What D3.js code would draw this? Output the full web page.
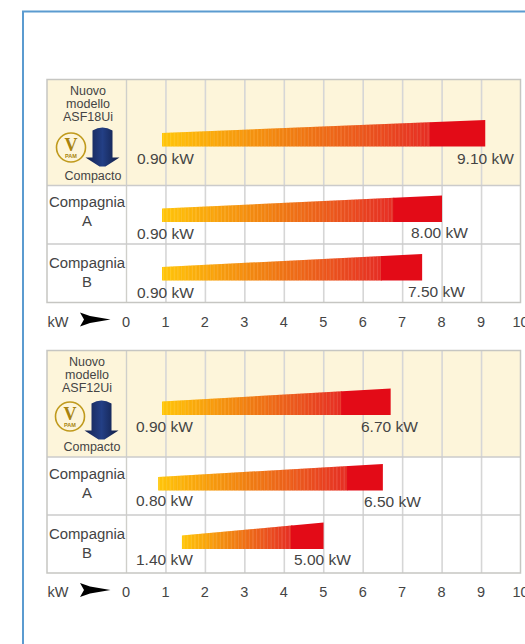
<!DOCTYPE html>
<html>
<head>
<meta charset="utf-8">
<script src="https://cdn.jsdelivr.net/npm/d3@7/dist/d3.min.js"></script>
<style>
html,body{margin:0;padding:0;background:#fff;overflow:hidden}
svg{display:block}
text{font-family:"Liberation Sans",Arial,sans-serif;fill:#444}
</style>
</head>
<body>
<svg id="chart" width="525" height="644"></svg>
<script>
// Heating capacity ranges (kW)
const rowNames = [["Compagnia","A"],["Compagnia","B"]];
const axisTicks = [0,1,2,3,4,5,6,7,8,9,10];

const lowValues18 = [0.9,0.9,0.9];
const highValues18 = [9.1,8.0,7.5];
const solidFrom18 = [7.69,6.76,6.45];

const lowValues12 = [0.9,0.8,1.4];
const highValues12 = [6.7,6.5,5.0];
const solidFrom12 = [5.44,5.59,4.17];

const models = ["ASF18Ui","ASF12Ui"];

const svg = d3.select("#chart");
const x = d3.scaleLinear().domain([0,10]).range([126.5,521]);
const fmt = d3.format(".2f");
const ramp = d3.scaleLinear()
  .domain([0,0.1,0.45,0.75,0.985,1])
  .range(["#ffc40a","#fbb40b","#ef8012","#e9541e","#e42d24","#e30b17"]);

// Page frame
svg.append("path").attr("d","M23 644V11.5H525").attr("fill","none")
  .attr("stroke","#5b9bd0").attr("stroke-width",2);

function drawPanel(cfg,idx){
  const g = svg.append("g");
  const {top,rows,model,lows,highs,solid,labels} = cfg;
  const left=47,right=520.5;
  const shift = idx?-1:0;
  // Highlighted first row
  g.append("rect").attr("x",left).attr("y",top).attr("width",right-left).attr("height",rows[0]-top).attr("fill","#fdf5da");
  // Vertical grid lines
  g.selectAll(null).data(axisTicks.slice(1,10)).join("line")
    .attr("x1",d=>x(d)).attr("x2",d=>x(d)).attr("y1",top).attr("y2",rows[2])
    .attr("stroke","#d6d6d6").attr("stroke-width",1.6);
  g.append("line").attr("x1",x(0)).attr("x2",x(0)).attr("y1",top).attr("y2",rows[2])
    .attr("stroke","#cfcfca").attr("stroke-width",1.4);
  // Row separators and outer box
  g.selectAll(null).data(rows.slice(0,2)).join("line")
    .attr("x1",left).attr("x2",right).attr("y1",d=>d).attr("y2",d=>d)
    .attr("stroke","#cbcbcb").attr("stroke-width",1.3);
  g.append("rect").attr("x",left).attr("y",top).attr("width",right-left).attr("height",rows[2]-top)
    .attr("fill","none").attr("stroke","#c6c6c2").attr("stroke-width",1.5);

  // Wedge bars: banded slices up to the solid red end section
  lows.forEach((lo,i)=>{
    const base = cfg.bases[i];
    const hi = highs[i];
    const h = d3.scaleLinear().domain([lo,hi]).range([13.5,26.5]);
    const clipId = `wedge-${idx}-${i}`;
    svg.append("clipPath").attr("id",clipId).append("path")
      .attr("d",`M${x(lo)} ${base}V${base-h(lo)}L${x(hi)} ${base-h(hi)}V${base}Z`);
    const step = 0.035;
    const steps = d3.range(lo,solid[i],step);
    const tone = d3.scaleLinear().domain([lo,solid[i]]).range([0,0.985]).clamp(true);
    const wedge = g.append("g").attr("clip-path",`url(#${clipId})`);
    wedge.selectAll("rect.slice").data(steps).join("rect").attr("class","slice")
      .attr("x",d=>x(d)).attr("width",x(step+0.008)-x(0))
      .attr("y",base-28).attr("height",29)
      .attr("fill",(d,k)=>{
        const c = d3.color(ramp(tone(d)));
        return k%3===0 ? c.brighter(0.06) : c;
      });
    wedge.append("rect").attr("x",x(solid[i])).attr("width",x(hi)-x(solid[i]))
      .attr("y",base-28).attr("height",29).attr("fill","#e30b17");
    const t = labels[i];
    g.append("text").attr("x",t.lx).attr("y",t.ly).attr("font-size",15.5).text(`${fmt(lo)} kW`);
    g.append("text").attr("x",t.hx).attr("y",t.hy).attr("font-size",15.5).text(`${fmt(hi)} kW`);
  });

  // First column: model heading, badge and unit icon
  const head = g.append("text").attr("text-anchor","middle").attr("font-size",12.5);
  ["Nuovo","modello",model].forEach((s,k)=>{
    head.append("tspan").attr("x",88+shift).attr("y",top+15.5+k*13).text(s);
  });
  const bx=71+shift, by=top+(idx?66:68);
  g.append("circle").attr("cx",bx).attr("cy",by).attr("r",14.5).attr("fill","#fdf5da").attr("stroke","#c09a1c").attr("stroke-width",1.6);
  g.append("text").attr("x",bx).attr("y",by+3).attr("text-anchor","middle").attr("font-size",18).attr("font-weight","bold")
    .style("font-family","'Liberation Serif'").style("fill","#a8830f").text("V");
  g.append("text").attr("x",bx).attr("y",by+10.5).attr("text-anchor","middle").attr("font-size",5.5).attr("font-weight","bold").style("fill","#a8830f").text("PAM");
  const ux=102.5+shift, uy=top+(idx?50:48);
  const grad = svg.append("linearGradient").attr("id",`unit-${idx}`).attr("x1",0).attr("x2",1);
  grad.append("stop").attr("offset",0).attr("stop-color","#14224f");
  grad.append("stop").attr("offset",0.5).attr("stop-color","#233f85");
  grad.append("stop").attr("offset",1).attr("stop-color","#101c42");
  g.append("path").attr("d",`M${ux-10} ${uy+3}Q${ux} ${uy-3} ${ux+10} ${uy+3}V${uy+30}H${ux+17}L${ux+3} ${uy+39}H${ux-3}L${ux-17} ${uy+30}H${ux-10}Z`)
    .attr("fill",`url(#unit-${idx})`);
  g.append("text").attr("x",93+shift).attr("y",top+100.5).attr("text-anchor","middle").attr("font-size",12.5).text("Compacto");

  // Competitor names
  rowNames.forEach((nm,i)=>{
    const t = g.append("text").attr("text-anchor","middle").attr("font-size",14.9);
    const y0 = rows[i] + (i?24:21.5);
    nm.forEach((s,k)=>t.append("tspan").attr("x",87).attr("y",y0+k*19).text(s));
  });

  // Axis row
  const ay = rows[2]+24;
  const axis = d3.axisBottom(x).tickValues(axisTicks).tickSize(0).tickPadding(0).tickFormat(d3.format("d"));
  const ag = g.append("g").attr("transform",`translate(0,${ay-13})`).call(axis);
  ag.select(".domain").remove();
  ag.selectAll("text").attr("font-size",14.5).attr("dy",null).attr("y",13).attr("x",-1).style("fill","#444");
  g.append("text").attr("x",47.5).attr("y",ay).attr("font-size",14.5).text("kW");
  g.append("path").attr("d",`M80 ${ay-14}L90 ${ay-10.5}L110.5 ${ay-7}L90 ${ay-3.5}L80 ${ay}L84 ${ay-7}Z`).attr("fill","#000");
}

drawPanel({top:79.5,rows:[185.5,244,302.5],model:models[0],lows:lowValues18,highs:highValues18,solid:solidFrom18,
  bases:[146.5,222,280.5],
  labels:[{lx:137,ly:164,hx:457,hy:164},{lx:137,ly:239,hx:411,hy:238},{lx:137,ly:297.5,hx:408,hy:297}]},0);
drawPanel({top:350.5,rows:[457,515,573],model:models[1],lows:lowValues12,highs:highValues12,solid:solidFrom12,
  bases:[415,490.5,549],
  labels:[{lx:136,ly:432,hx:361,hy:432},{lx:136,ly:506,hx:364,hy:507},{lx:136,ly:565,hx:294,hy:565}]},1);
</script>
</body>
</html>
